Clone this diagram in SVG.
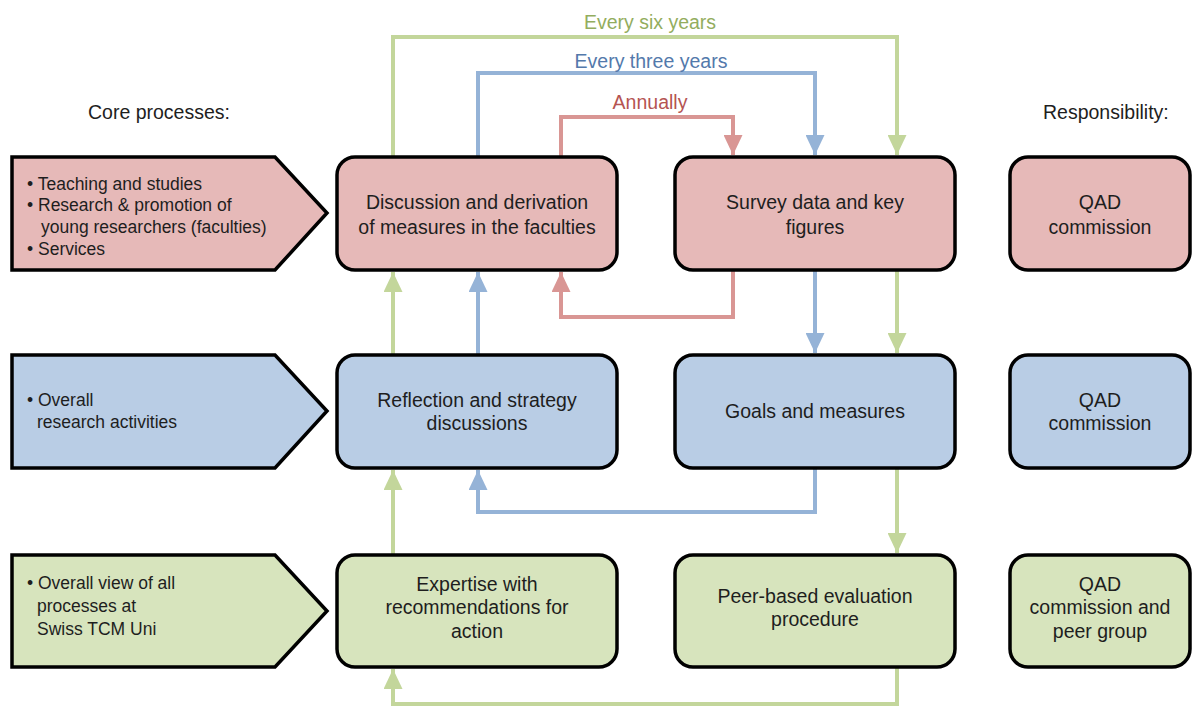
<svg xmlns="http://www.w3.org/2000/svg" width="1192" height="707" viewBox="0 0 1192 707">
<style>
  text { font-family: "Liberation Sans", Arial, sans-serif; fill: #1e1e1e; }
  .bx { font-size: 19.5px; text-anchor: middle; }
  .pt { font-size: 17.5px; }
  .hd { font-size: 19.5px; }
  .lb { font-size: 19.5px; text-anchor: middle; }
  .node { stroke: #000; stroke-width: 3.5; }
  .red { fill: #e6b9b8; }
  .blue { fill: #b9cde5; }
  .green { fill: #d7e4bd; }
  .c { fill: none; stroke-width: 4; }
  .cr { stroke: #d99694; }
  .cb { stroke: #95b3d7; }
  .cg { stroke: #c3d69b; }
</style>
<defs>
  <marker id="ar" markerUnits="userSpaceOnUse" markerWidth="20" markerHeight="19" refX="20" refY="9.5" orient="auto"><path d="M0,0 L20,9.5 L0,19 z" fill="#d99694"/></marker>
  <marker id="ab" markerUnits="userSpaceOnUse" markerWidth="20" markerHeight="19" refX="20" refY="9.5" orient="auto"><path d="M0,0 L20,9.5 L0,19 z" fill="#95b3d7"/></marker>
  <marker id="ag" markerUnits="userSpaceOnUse" markerWidth="20" markerHeight="19" refX="20" refY="9.5" orient="auto"><path d="M0,0 L20,9.5 L0,19 z" fill="#c3d69b"/></marker>
</defs>
<rect width="1192" height="707" fill="#fff"/>

<text class="hd" x="88" y="119">Core processes:</text>
<text class="hd" x="1043" y="119">Responsibility:</text>

<g id="connectors">
  <path class="c cg" d="M393,157 V37 H897 V155" marker-end="url(#ag)"/>
  <path class="c cb" d="M478,157 V73 H815 V155" marker-end="url(#ab)"/>
  <path class="c cr" d="M561,157 V117 H733 V155" marker-end="url(#ar)"/>
  <path class="c cr" d="M733,270 V317 H561 V272" marker-end="url(#ar)"/>
  <path class="c cg" d="M393,355 V272" marker-end="url(#ag)"/>
  <path class="c cb" d="M478,355 V272" marker-end="url(#ab)"/>
  <path class="c cb" d="M815,270 V353" marker-end="url(#ab)"/>
  <path class="c cg" d="M897,270 V353" marker-end="url(#ag)"/>
  <path class="c cb" d="M815,468 V512 H478 V470" marker-end="url(#ab)"/>
  <path class="c cg" d="M393,555 V470" marker-end="url(#ag)"/>
  <path class="c cg" d="M897,468 V553" marker-end="url(#ag)"/>
  <path class="c cg" d="M897,667 V704 H393 V669" marker-end="url(#ag)"/>
  <text class="lb" x="650" y="29" style="fill:#93ad5e">Every six years</text>
  <text class="lb" x="651" y="68" style="fill:#5379ab">Every three years</text>
  <text class="lb" x="650" y="109" style="fill:#b55452">Annually</text>
</g>

<g id="core-red">
  <path class="node red" d="M12,157 H275 L327,213 L275,270 H12 Z"/>
  <text class="pt" x="27" y="190">• Teaching and studies</text>
  <text class="pt" x="27" y="211">• Research &amp; promotion of</text>
  <text class="pt" x="41" y="233">young researchers (faculties)</text>
  <text class="pt" x="27" y="255">• Services</text>
</g>
<g id="core-blue">
  <path class="node blue" d="M12,355 H275 L327,411 L275,468 H12 Z"/>
  <text class="pt" x="27" y="406">• Overall</text>
  <text class="pt" x="37" y="428">research activities</text>
</g>
<g id="core-green">
  <path class="node green" d="M12,555 H275 L327,611 L275,667 H12 Z"/>
  <text class="pt" x="27" y="589">• Overall view of all</text>
  <text class="pt" x="37" y="612">processes at</text>
  <text class="pt" x="37" y="635">Swiss TCM Uni</text>
</g>

<g id="discussion">
  <rect class="node red" x="337" y="157" width="280" height="113" rx="18"/>
  <text class="bx" x="477" y="209">Discussion and derivation</text>
  <text class="bx" x="477" y="234">of measures in the faculties</text>
</g>
<g id="survey">
  <rect class="node red" x="675" y="157" width="280" height="113" rx="18"/>
  <text class="bx" x="815" y="209">Survey data and key</text>
  <text class="bx" x="815" y="234">figures</text>
</g>
<g id="qad1">
  <rect class="node red" x="1010" y="157" width="180" height="113" rx="18"/>
  <text class="bx" x="1100" y="209">QAD</text>
  <text class="bx" x="1100" y="234">commission</text>
</g>

<g id="reflection">
  <rect class="node blue" x="337" y="355" width="280" height="113" rx="18"/>
  <text class="bx" x="477" y="407">Reflection and strategy</text>
  <text class="bx" x="477" y="430">discussions</text>
</g>
<g id="goals">
  <rect class="node blue" x="675" y="355" width="280" height="113" rx="18"/>
  <text class="bx" x="815" y="418">Goals and measures</text>
</g>
<g id="qad2">
  <rect class="node blue" x="1010" y="355" width="180" height="113" rx="18"/>
  <text class="bx" x="1100" y="407">QAD</text>
  <text class="bx" x="1100" y="430">commission</text>
</g>

<g id="expertise">
  <rect class="node green" x="337" y="555" width="280" height="112" rx="18"/>
  <text class="bx" x="477" y="591">Expertise with</text>
  <text class="bx" x="477" y="614">recommendations for</text>
  <text class="bx" x="477" y="638">action</text>
</g>
<g id="peer">
  <rect class="node green" x="675" y="555" width="280" height="112" rx="18"/>
  <text class="bx" x="815" y="603">Peer-based evaluation</text>
  <text class="bx" x="815" y="626">procedure</text>
</g>
<g id="qad3">
  <rect class="node green" x="1010" y="555" width="180" height="112" rx="18"/>
  <text class="bx" x="1100" y="591">QAD</text>
  <text class="bx" x="1100" y="614">commission and</text>
  <text class="bx" x="1100" y="638">peer group</text>
</g>
</svg>
